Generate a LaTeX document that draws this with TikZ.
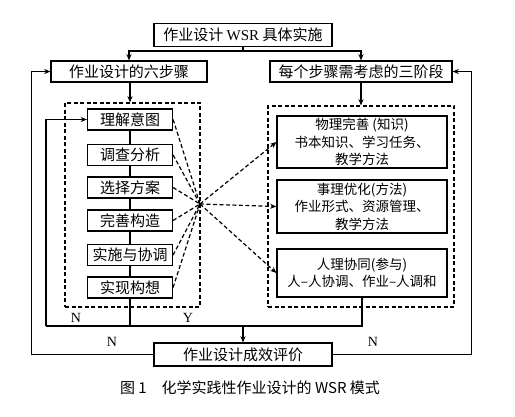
\documentclass[tikz,border=0pt]{standalone}
\usepackage{fontspec}
\setmainfont{Liberation Serif}
\newfontfamily\cjk{Noto Sans CJK SC}
\usetikzlibrary{arrows.meta,positioning,calc}
\newcommand{\bigsz}{\fontsize{15}{18}\selectfont}
\newcommand{\smsz}{\fontsize{13.5}{17.5}\selectfont}
\tikzset{
  bx/.style={draw, line width=1.2pt, inner sep=0pt, align=center, font=\cjk\bigsz},
  stp/.style={bx, minimum width=85pt, minimum height=21pt},
  thr/.style={bx, minimum width=170pt, font=\cjk\smsz},
  dbx/.style={draw, line width=1.2pt, dash pattern=on 4pt off 2.5pt, inner sep=0pt},
  arr/.style={-{Stealth[length=2.2mm, width=1.8mm]}, line width=1.2pt},
  ln/.style={line width=1.2pt},
  dsh/.style={line width=1.2pt, dash pattern=on 4pt off 2.5pt},
  dar/.style={dsh, -{Stealth[length=2.2mm, width=1.8mm]}},
  lbl/.style={font=\fontsize{14}{16}\selectfont, inner sep=0pt},
}
\begin{document}
\begin{tikzpicture}[x=1pt, y=-1pt]
  \useasboundingbox (0,0) rectangle (515,417);
  \node[bx, minimum width=178pt, minimum height=23pt] (top) at (243,35) {作业设计 {\rmfamily WSR} 具体实施};
  \node[bx, minimum width=156pt, minimum height=21pt] (six) at (129,71.5) {作业设计的六步骤};
  \node[bx, minimum width=182pt, minimum height=21pt] (three) at (361,71.5) {每个步骤需考虑的三阶段};
  \node[bx, minimum width=178pt, minimum height=23pt] (eval) at (243,354.5) {作业设计成效评价};
  \node[dbx, minimum width=135pt, minimum height=204pt] (dl) at (132.5,205) {};
  \node[dbx, minimum width=186pt, minimum height=201pt] (dr) at (361,206.5) {};
  \foreach \i/\y/\t in {1/119.5/理解意图, 2/155/调查分析, 3/187.5/选择方案, 4/220.5/完善构造, 5/255/实施与协调, 6/287.5/实现构想}
    \node[stp] (s\i) at (130,\y) {\t};
  \node[thr, minimum height=52pt] (r1) at (362,142) {物理完善 (知识)\\书本知识、学习任务、\\教学方法};
  \node[thr, minimum height=53pt] (r2) at (362,206.5) {事理优化(方法)\\作业形式、资源管理、\\教学方法};
  \node[thr, minimum height=48pt] (r3) at (362,273) {人理协同(参与)\\人–人协调、作业–人调和};
  \coordinate (hub) at (200,204);
  \coordinate (bl) at (46,326);
  \draw[ln] (top.south) -- ++(0,4) coordinate (tj);
  \draw[arr] (tj) -| (six.north);
  \draw[arr] (tj) -| (three.north);
  \draw[arr] (six.south -| s1.north) -- (dl.north -| s1.north);
  \draw[arr] (three.south) -- (dr.north);
  \foreach \a/\b in {s1/s2,s2/s3,s3/s4,s4/s5,s5/s6} \draw[ln] (\a) -- (\b);
  \draw[ln] (s6.south) -- (s6.south |- bl);
  \draw[ln] (r3.south) -- (r3.south |- bl) -- (bl);
  \draw[arr] (bl) |- (s1.west);
  \draw[arr] (eval.north |- bl) -- (eval.north);
  \draw[arr] (eval.west) -- ++(-122,0) |- (six.west);
  \draw[arr] (eval.east) -- ++(139,0) |- (three.east);
  \foreach \i in {1,...,6} \draw[dsh] (s\i.east) -- (hub);
  \foreach \i in {1,2,3} \draw[dar] (hub) -- (r\i.west);
  \node[lbl] (n1) at (76,318) {N};
  \node[lbl] (y1) at (188,318) {Y};
  \node[lbl] (n2) at (112,342) {N};
  \node[lbl] (n3) at (373,342) {N};
  \node[font=\cjk\fontsize{15}{17}\selectfont] (cap) at (250,388) {图 1\quad 化学实践性作业设计的 WSR 模式};
\end{tikzpicture}
\end{document}
